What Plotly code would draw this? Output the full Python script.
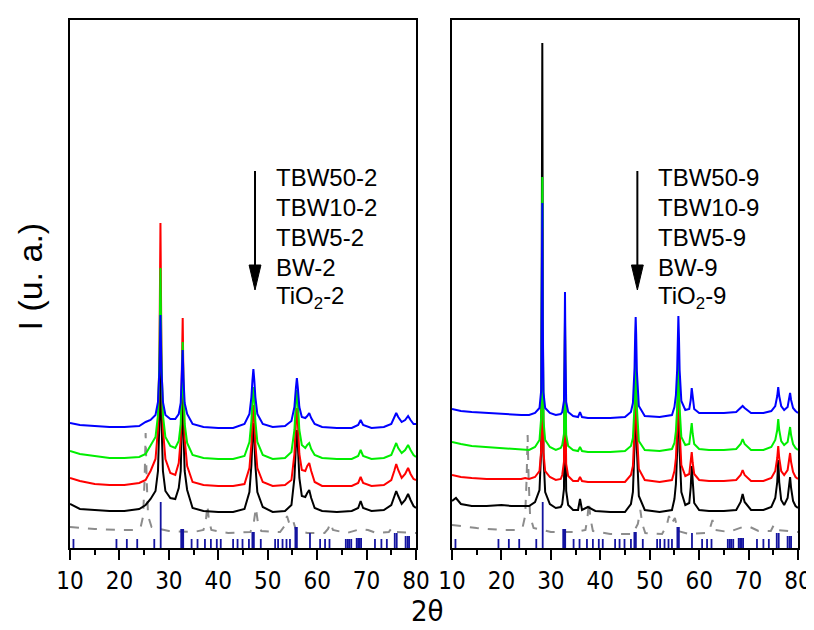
import plotly.graph_objects as go

# ---------------- data (heights in arbitrary units) ----------------
# Left panel (calcined 2 h) common 2theta grid
LX = [10, 12, 15, 18, 21, 24,
      25.3, 26.3, 27.3, 27.8, 28.1, 28.3, 28.5, 28.8, 29.3, 30.3, 31.3,
      32.0, 32.4, 32.65, 32.8, 32.95, 33.2, 33.7, 34.8,
      37, 40, 43, 45.3,
      46.3, 46.7, 46.9, 47.1, 47.3, 47.5, 47.9, 49,
      51, 53.5, 54.8,
      55.4, 55.7, 55.9, 56.1, 56.4, 56.9, 57.6, 58.0, 58.4, 58.8, 59.5,
      61, 64, 67, 68.3, 68.8, 69.3, 71, 73.5,
      75, 75.6, 76.0, 76.4, 77.1, 77.8, 78.4, 78.9, 79.5, 80]

L_TBW50 = [125, 123, 122, 121, 121, 122,
           126, 128, 133, 146, 179, 233, 179, 146, 133, 129, 129,
           134, 145, 170, 198, 170, 145, 134, 124,
           121, 120, 120, 124,
           134, 151, 167, 179, 167, 151, 134, 124,
           121, 122, 127,
           141, 160, 170, 160, 141, 131, 130, 132, 135, 130, 124,
           121, 120, 120, 123, 128, 123, 120, 121,
           124, 130, 135, 131, 126, 128, 132, 128, 124, 124]
L_TBW10 = [97, 94, 92, 90, 90, 91,
           94, 102, 111, 133, 188, 280, 188, 133, 111, 102, 100,
           107, 124, 162, 206, 162, 124, 105, 93,
           90, 89, 89, 92,
           106, 127, 147, 161, 147, 127, 106, 93,
           89, 90, 96,
           118, 145, 158, 145, 118, 103, 100, 103, 105, 99, 93,
           90, 89, 89, 92, 98, 92, 89, 90,
           93, 100, 105, 100, 95, 98, 103, 98, 93, 91]
L_TBW5 = [70, 67, 64, 63, 63, 65,
          68, 77, 89, 119, 196, 325, 196, 119, 89, 75, 73,
          85, 109, 166, 230, 166, 109, 82, 66,
          63, 62, 62, 64,
          80, 104, 127, 143, 127, 104, 80, 66,
          62, 63, 68,
          94, 125, 140, 125, 94, 78, 77, 82, 85, 77, 66,
          62, 62, 62, 65, 71, 65, 62, 63,
          68, 77, 84, 78, 70, 74, 80, 74, 69, 68]
L_BW = [44, 39, 38, 37, 37, 39,
        43, 49, 57, 77, 129, 215, 129, 77, 57, 50, 49,
        60, 77, 118, 165, 118, 77, 58, 40,
        37, 36, 36, 39,
        56, 83, 107, 125, 107, 83, 56, 41,
        36, 37, 43,
        70, 102, 118, 102, 70, 52, 51, 55, 58, 50, 40,
        37, 36, 37, 40, 47, 40, 37, 38,
        43, 51, 57, 52, 44, 48, 54, 48, 42, 40]

TLX = [10, 15, 20, 23, 24.3, 24.8, 25.1, 25.3, 25.5, 25.8,
       26.5, 30, 35, 37.0, 37.5, 37.8, 38.1, 38.6,
       42, 46.5, 47.2, 47.6, 48.0, 48.7,
       52.5, 53.4, 53.9, 54.4, 55.1, 55.7,
       58, 61.5, 62.2, 62.7, 63.2,
       66, 68.8, 70.3, 72,
       74.5, 75.1, 75.7, 80]
L_TIO2 = [21, 19, 18, 18, 21, 32, 70, 115, 70, 32,
          21, 17, 16, 18, 28, 43, 28, 18,
          15, 16, 26, 40, 26, 17,
          16, 22, 32, 24, 28, 18,
          15, 15, 19, 25, 18,
          15, 19, 18, 15,
          16, 20, 16, 15]

# Right panel (calcined 9 h) common 2theta grid
RX = [10, 10.8, 11.8, 14, 17, 20, 22, 24.0, 24.8, 25.6,
      26.8, 27.7, 28.05, 28.17, 28.27, 28.37, 28.5, 28.85, 29.8, 31.0,
      32.0, 32.3, 32.65, 32.76, 32.86, 32.96, 33.1, 33.5, 34.5,
      35.5, 35.9, 36.3, 37.5, 39, 42, 45,
      46.2, 46.6, 46.93, 47.06, 47.16, 47.26, 47.4, 47.8, 49,
      52, 54.5,
      55.0, 55.3, 55.55, 55.68, 55.8, 55.92, 56.05, 56.4, 57.2, 58.0, 58.3, 58.5, 58.7, 59.0, 60,
      62, 65, 67.5, 68.4, 68.8, 69.2, 70.5, 73,
      74.6, 75.4, 75.8, 76.0, 76.2, 76.6, 77.2, 77.9, 78.2, 78.4, 78.6, 79.0, 79.5, 80]

R_TBW50 = [139, 138, 137, 136, 135, 134, 133, 133, 133, 133,
           135, 140, 158, 228, 345, 228, 156, 140, 135, 133,
           134, 136, 147, 188, 256, 188, 146, 136, 132,
           131, 136, 131, 130, 130, 130, 131,
           136, 145, 180, 214, 231, 214, 177, 142, 132,
           131, 133,
           141, 153, 178, 210, 232, 210, 178, 147, 138, 139, 148, 160, 148, 139, 135,
           135, 135, 136, 140, 142, 140, 135, 135,
           137, 142, 152, 161, 152, 142, 138, 141, 148, 155, 148, 140, 137, 135]
R_TBW10 = [106, 105, 104, 102, 101, 100, 99, 98, 98, 98,
           101, 108, 131, 221, 371, 221, 128, 108, 101, 98,
           100, 103, 114, 157, 230, 157, 113, 102, 98,
           97, 101, 97, 96, 96, 96, 97,
           102, 110, 143, 175, 191, 175, 141, 107, 98,
           97, 99,
           105, 117, 140, 171, 191, 171, 140, 111, 103, 104, 114, 125, 114, 104, 99,
           98, 98, 99, 104, 109, 104, 98, 98,
           101, 108, 118, 129, 118, 107, 103, 106, 113, 121, 113, 104, 100, 98]
R_TBW5 = [73, 72, 71, 70, 69, 69, 69, 69, 70, 69,
          71, 77, 98, 181, 320, 181, 96, 77, 71, 68,
          69, 73, 86, 138, 225, 138, 84, 72, 67,
          67, 71, 67, 66, 66, 66, 66,
          73, 82, 119, 156, 175, 156, 117, 79, 68,
          66, 68,
          77, 90, 118, 154, 178, 154, 118, 83, 72, 74, 85, 96, 85, 74, 68,
          67, 67, 68, 73, 78, 73, 67, 67,
          70, 77, 90, 102, 90, 77, 73, 78, 86, 95, 86, 76, 71, 69]
R_BW = [47, 50, 44, 42, 42, 43, 42, 42, 42, 42,
        46, 58, 98, 250, 505, 250, 93, 56, 44, 40,
        41, 44, 59, 118, 215, 118, 57, 43, 38,
        38, 49, 38, 41, 37, 36, 36,
        44, 56, 102, 147, 170, 147, 99, 52, 38,
        36, 38,
        49, 64, 97, 141, 170, 141, 97, 56, 43, 45, 61, 82, 61, 45, 38,
        37, 37, 38, 46, 54, 46, 38, 38,
        41, 50, 66, 88, 66, 48, 43, 50, 60, 71, 60, 47, 42, 40]

TRX = [10, 15, 20, 23, 24.3, 24.8, 25.1, 25.3, 25.5, 25.8,
       26.5, 30, 35, 37.0, 37.4, 37.7, 38.0, 38.5,
       42, 46.5, 47.6, 48.1, 48.5, 49.1,
       52.5, 53.4, 53.9, 54.4, 55.1, 55.7,
       58, 61.5, 62.2, 62.7, 63.2,
       66, 68.8, 70.3, 72,
       74.5, 75.1, 75.7, 80]
R_TIO2 = [23, 20, 18, 18, 21, 32, 70, 113, 70, 32,
          20, 16, 16, 18, 30, 46, 30, 17,
          14, 14, 24, 38, 24, 15,
          14, 22, 32, 24, 30, 17,
          14, 15, 20, 28, 18,
          16, 21, 21, 17,
          17, 23, 18, 16]

# Bi2WO6 reference pattern (stick positions / relative heights)
REF_POS = [10.7, 19.4, 21.5, 23.6, 27.05, 28.35, 32.5, 32.7, 32.9, 34.6, 35.8,
           37.3, 38.5, 39.7, 40.5, 43.0, 43.9, 44.9, 46.2, 46.9, 47.2, 48.6,
           51.5, 52.1, 53.0, 53.8, 54.5, 55.6, 55.9, 58.55, 60.6, 61.6, 62.5,
           65.8, 66.2, 66.5, 66.9, 68.0, 68.3, 68.6, 68.9, 71.7, 73.0, 74.1,
           75.7, 76.1, 77.9, 78.3, 78.6]
REF_INT = [9, 9, 9, 9, 9, 46, 19, 19, 19, 9, 9,
           9, 9, 9, 9, 9, 9, 9, 9, 16, 16, 9,
           9, 9, 9, 9, 9, 21, 21, 15, 9, 9, 9,
           9, 9, 9, 9, 10, 10, 10, 10, 9, 9, 9,
           15, 15, 12, 12, 12]

LEGEND_L = ["TBW50-2", "TBW10-2", "TBW5-2", "BW-2", "TiO<sub>2</sub>-2"]
LEGEND_R = ["TBW50-9", "TBW10-9", "TBW5-9", "BW-9", "TiO<sub>2</sub>-9"]
XTICKS = [10, 20, 30, 40, 50, 60, 70, 80]

for arr in (L_TBW50, L_TBW10, L_TBW5, L_BW):
    assert len(arr) == len(LX), len(arr)
for arr in (R_TBW50, R_TBW10, R_TBW5, R_BW):
    assert len(arr) == len(RX), len(arr)
assert len(L_TIO2) == len(TLX) and len(R_TIO2) == len(TRX)
assert len(REF_POS) == len(REF_INT)

# ---------------- figure ----------------
fig = go.Figure()
STICK = "#1414a0"
CURVE_COLORS = ["#000000", "#ff0000", "#00ee00", "#0000ff"]


def add_panel(xa, ya, tx, ty, gx, curves):
    fig.add_trace(go.Scatter(x=tx, y=ty, mode="lines", xaxis=xa, yaxis=ya,
                             line=dict(color="#8c8c8c", width=2, dash="dash"),
                             hoverinfo="skip", showlegend=False))
    sx, sy = [], []
    for p, h in zip(REF_POS, REF_INT):
        sx += [p, p, None]
        sy += [0, h, None]
    fig.add_trace(go.Scatter(x=sx, y=sy, mode="lines", xaxis=xa, yaxis=ya,
                             line=dict(color=STICK, width=1.8),
                             hoverinfo="skip", showlegend=False))
    for ys, c in zip(curves, CURVE_COLORS):
        fig.add_trace(go.Scatter(x=gx, y=ys, mode="lines", xaxis=xa, yaxis=ya,
                                 line=dict(color=c, width=2),
                                 hoverinfo="skip", showlegend=False))


add_panel("x", "y", TLX, L_TIO2, LX, [L_BW, L_TBW5, L_TBW10, L_TBW50])
add_panel("x2", "y2", TRX, R_TIO2, RX, [R_BW, R_TBW5, R_TBW10, R_TBW50])

NARROW = "DejaVu Sans Condensed, Liberation Sans, Arial"
TICKFONT = dict(family=NARROW, size=24, color="black")
xcommon = dict(range=[10, 80], tickvals=XTICKS, ticktext=[str(v) for v in XTICKS],
               ticks="outside", ticklen=10, tickwidth=2, tickcolor="black",
               minor=dict(dtick=5, tick0=10, ticks="outside", ticklen=5,
                          tickwidth=2, tickcolor="black"),
               showline=True, linewidth=2, linecolor="black", mirror=True,
               showgrid=False, zeroline=False, tickfont=TICKFONT, automargin=False)
ycommon = dict(range=[0, 528], showticklabels=False, ticks="", showgrid=False,
               zeroline=False, showline=True, linewidth=1.5, linecolor="black",
               mirror=True, automargin=False)

# the page body adds an 8 px offset; the figure is sized so that the plot
# areas land at x 70-416 / 452-798 and y 20-548 in the window
OFF = 8
W, H = 814 - OFF, 630 - OFF
ML, MR, MT, MB = 70 - OFF, 16, 20 - OFF, 630 - 548
PW = W - ML - MR
fig.update_layout(
    width=W, height=H,
    margin=dict(l=ML, r=MR, t=MT, b=MB, autoexpand=False),
    paper_bgcolor="white", plot_bgcolor="white",
    xaxis=dict(domain=[0, 346 / PW], **xcommon),
    xaxis2=dict(domain=[382 / PW, 1], **xcommon),
    yaxis=dict(domain=[0, 1], anchor="x", **ycommon),
    yaxis2=dict(domain=[0, 1], anchor="x2", **ycommon),
    showlegend=False,
)

LABFONT = dict(family="Liberation Sans, Arial", size=24, color="black")
LEG_Y = [371, 341, 311, 281, 251]
annotations = []
shapes = []
for xr, yr, labels, tx, arx in (("x", "y", LEGEND_L, 51.3, 47.43),
                                 ("x2", "y2", LEGEND_R, 51.3, 47.5)):
    for lab, yy in zip(labels, LEG_Y):
        annotations.append(dict(x=tx, y=yy, xref=xr, yref=yr, text=lab,
                                showarrow=False, xanchor="left", yanchor="middle",
                                font=LABFONT))
    shapes.append(dict(type="line", xref=xr, yref=yr, x0=arx, x1=arx, y0=377, y1=270,
                       line=dict(color="black", width=2)))
    shapes.append(dict(type="path", xref=xr, yref=yr,
                       path=f"M {arx-1.2},283 L {arx+1.2},283 L {arx},258 Z",
                       fillcolor="black", line=dict(color="black", width=1)))

annotations.append(dict(x=(29 - 70) / PW, y=(548 - 276.5) / 528, xref="paper", yref="paper",
                        text="I (u. a.)", textangle=-90, showarrow=False,
                        xanchor="center", yanchor="middle",
                        font=dict(family="Liberation Sans, Arial", size=34, color="black")))
annotations.append(dict(x=(427 - 70) / PW, y=(548 - 611) / 528, xref="paper", yref="paper",
                        text="2θ", showarrow=False, xanchor="center", yanchor="middle",
                        font=dict(family=NARROW, size=29, color="black")))
fig.update_layout(annotations=annotations, shapes=shapes)

fig.write_html("out.html")
